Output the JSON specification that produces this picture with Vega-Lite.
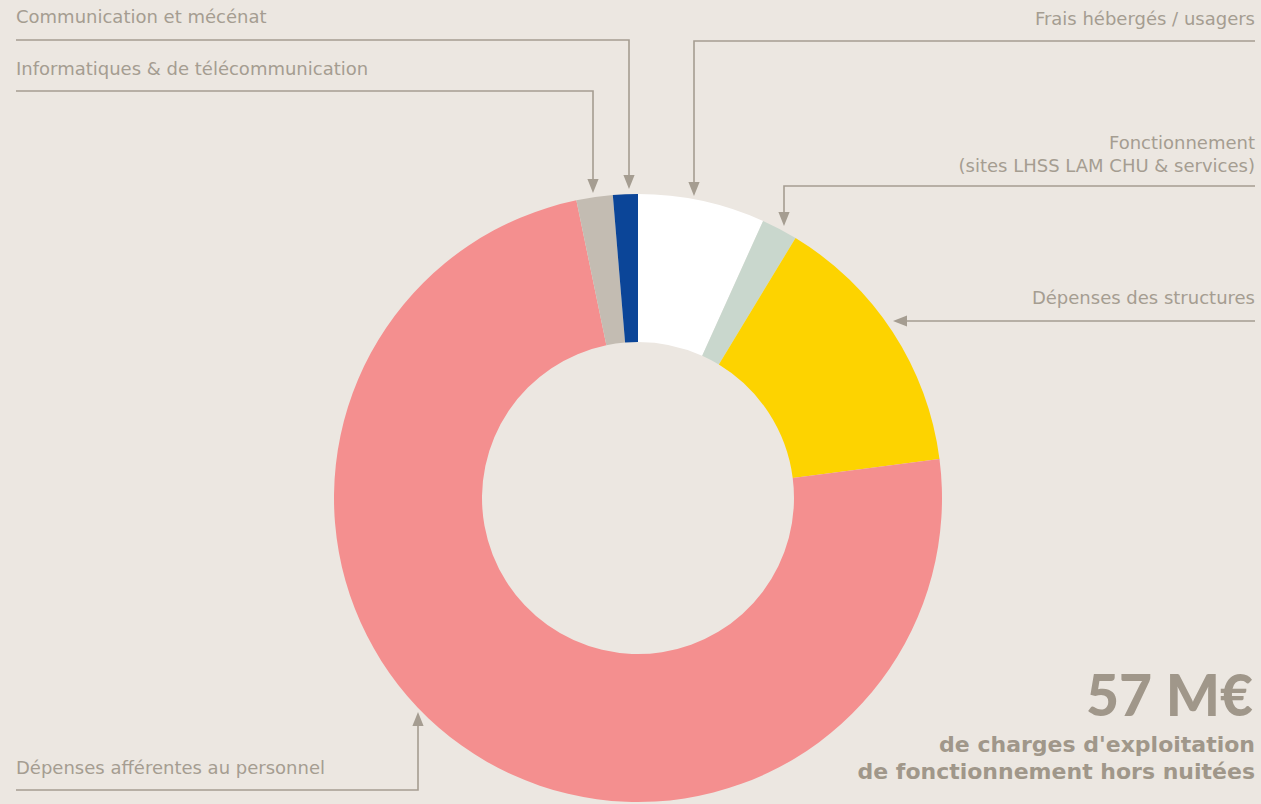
{
  "$schema": "https://vega.github.io/schema/vega-lite/v6.json",
  "autosize": {"type": "fit", "contains": "padding"},
  "width": 1261,
  "height": 804,
  "padding": 0,
  "background": "#ECE7E1",
  "config": {"view": {"stroke": null}},
  "datasets": {
    "parts": [
      {"category": "Frais hébergés / usagers", "share": 6.75, "rank": 1},
      {"category": "Fonctionnement (sites LHSS LAM CHU & services)", "share": 1.92, "rank": 2},
      {"category": "Dépenses des structures", "share": 14.28, "rank": 3},
      {"category": "Dépenses afférentes au personnel", "share": 73.8, "rank": 4},
      {"category": "Informatiques & de télécommunication", "share": 1.93, "rank": 5},
      {"category": "Communication et mécénat", "share": 1.32, "rank": 6}
    ],
    "leaders": [
      {"id": "comm", "seq": 1, "px": 16, "py": 40},
      {"id": "comm", "seq": 2, "px": 629, "py": 40},
      {"id": "comm", "seq": 3, "px": 629, "py": 182},
      {"id": "info", "seq": 1, "px": 16, "py": 91},
      {"id": "info", "seq": 2, "px": 593, "py": 91},
      {"id": "info", "seq": 3, "px": 593, "py": 186},
      {"id": "frais", "seq": 1, "px": 1255, "py": 41},
      {"id": "frais", "seq": 2, "px": 694, "py": 41},
      {"id": "frais", "seq": 3, "px": 694, "py": 189},
      {"id": "fonct", "seq": 1, "px": 1255, "py": 186},
      {"id": "fonct", "seq": 2, "px": 784, "py": 186},
      {"id": "fonct", "seq": 3, "px": 784, "py": 219},
      {"id": "struct", "seq": 1, "px": 1255, "py": 321},
      {"id": "struct", "seq": 2, "px": 900, "py": 321},
      {"id": "perso", "seq": 1, "px": 16, "py": 790},
      {"id": "perso", "seq": 2, "px": 418, "py": 790},
      {"id": "perso", "seq": 3, "px": 418, "py": 719}
    ],
    "arrows": [
      {"id": "comm", "dir": "down", "px": 629, "py": 182},
      {"id": "info", "dir": "down", "px": 593, "py": 186},
      {"id": "frais", "dir": "down", "px": 694, "py": 189},
      {"id": "fonct", "dir": "down", "px": 784, "py": 219},
      {"id": "struct", "dir": "left", "px": 900, "py": 321},
      {"id": "perso", "dir": "up", "px": 418, "py": 719}
    ],
    "labels": [
      {"label": "Communication et mécénat", "side": "left", "px": 16, "py": 18},
      {"label": "Informatiques & de télécommunication", "side": "left", "px": 16, "py": 70},
      {"label": "Dépenses afférentes au personnel", "side": "left", "px": 16, "py": 769},
      {"label": "Frais hébergés / usagers", "side": "right", "px": 1255, "py": 20},
      {"label": "Fonctionnement\n(sites LHSS LAM CHU & services)", "side": "right", "px": 1255, "py": 144},
      {"label": "Dépenses des structures", "side": "right", "px": 1255, "py": 299}
    ]
  },
  "layer": [
    {
      "data": {"name": "parts"},
      "mark": {"type": "arc", "outerRadius": 304, "innerRadius": 156},
      "encoding": {
        "theta": {"field": "share", "type": "quantitative", "stack": true},
        "order": {"field": "rank", "type": "quantitative"},
        "color": {
          "field": "category",
          "type": "nominal",
          "legend": null,
          "scale": {
            "domain": [
              "Frais hébergés / usagers",
              "Fonctionnement (sites LHSS LAM CHU & services)",
              "Dépenses des structures",
              "Dépenses afférentes au personnel",
              "Informatiques & de télécommunication",
              "Communication et mécénat"
            ],
            "range": ["#FFFFFF", "#C9D7CD", "#FDD300", "#F48F8F", "#C3BCB2", "#0B4598"]
          }
        },
        "x": {"datum": 638, "type": "quantitative", "scale": {"domain": [0, 1261], "nice": false, "zero": false}, "axis": null},
        "y": {"datum": 498, "type": "quantitative", "scale": {"domain": [0, 804], "nice": false, "zero": false, "reverse": true}, "axis": null}
      }
    },
    {
      "data": {"name": "leaders"},
      "mark": {"type": "line", "color": "#A59D91", "strokeWidth": 1.6, "interpolate": "linear"},
      "encoding": {
        "x": {"field": "px", "type": "quantitative"},
        "y": {"field": "py", "type": "quantitative"},
        "detail": {"field": "id", "type": "nominal"},
        "order": {"field": "seq", "type": "quantitative"}
      }
    },
    {
      "data": {"name": "arrows"},
      "mark": {"type": "point", "filled": true, "opacity": 1, "color": "#A59D91", "size": 196, "strokeWidth": 0},
      "encoding": {
        "x": {"field": "px", "type": "quantitative"},
        "y": {"field": "py", "type": "quantitative"},
        "shape": {
          "field": "dir",
          "type": "nominal",
          "legend": null,
          "scale": {
            "domain": ["down", "up", "left"],
            "range": ["M-0.8,-1L0.8,-1L0,1Z", "M-0.8,1L0.8,1L0,-1Z", "M1,-0.8L1,0.8L-1,0Z"]
          }
        }
      }
    },
    {
      "data": {"name": "labels"},
      "transform": [{"filter": "datum.side === 'left'"}],
      "mark": {"type": "text", "align": "left", "baseline": "middle", "font": "DejaVu Sans", "fontSize": 18, "color": "#A59D91", "lineBreak": "\n", "lineHeight": 23},
      "encoding": {
        "x": {"field": "px", "type": "quantitative"},
        "y": {"field": "py", "type": "quantitative"},
        "text": {"field": "label", "type": "nominal"}
      }
    },
    {
      "data": {"name": "labels"},
      "transform": [{"filter": "datum.side === 'right'"}],
      "mark": {"type": "text", "align": "right", "baseline": "middle", "font": "DejaVu Sans", "fontSize": 18, "color": "#A59D91", "lineBreak": "\n", "lineHeight": 23},
      "encoding": {
        "x": {"field": "px", "type": "quantitative"},
        "y": {"field": "py", "type": "quantitative"},
        "text": {"field": "label", "type": "nominal"}
      }
    },
    {
      "data": {"values": [{"t": "57 M€"}]},
      "mark": {"type": "text", "align": "right", "baseline": "alphabetic", "font": "Lato", "fontWeight": 900, "fontSize": 57, "color": "#A0978A"},
      "encoding": {
        "x": {"datum": 1253, "type": "quantitative"},
        "y": {"datum": 716, "type": "quantitative"},
        "text": {"field": "t", "type": "nominal"}
      }
    },
    {
      "data": {"values": [{"t": "de charges d'exploitation\nde fonctionnement hors nuitées"}]},
      "mark": {"type": "text", "align": "right", "baseline": "alphabetic", "font": "DejaVu Sans", "fontWeight": "bold", "fontSize": 22, "color": "#A0978A", "lineBreak": "\n", "lineHeight": 27},
      "encoding": {
        "x": {"datum": 1255, "type": "quantitative"},
        "y": {"datum": 752, "type": "quantitative"},
        "text": {"field": "t", "type": "nominal"}
      }
    }
  ]
}
